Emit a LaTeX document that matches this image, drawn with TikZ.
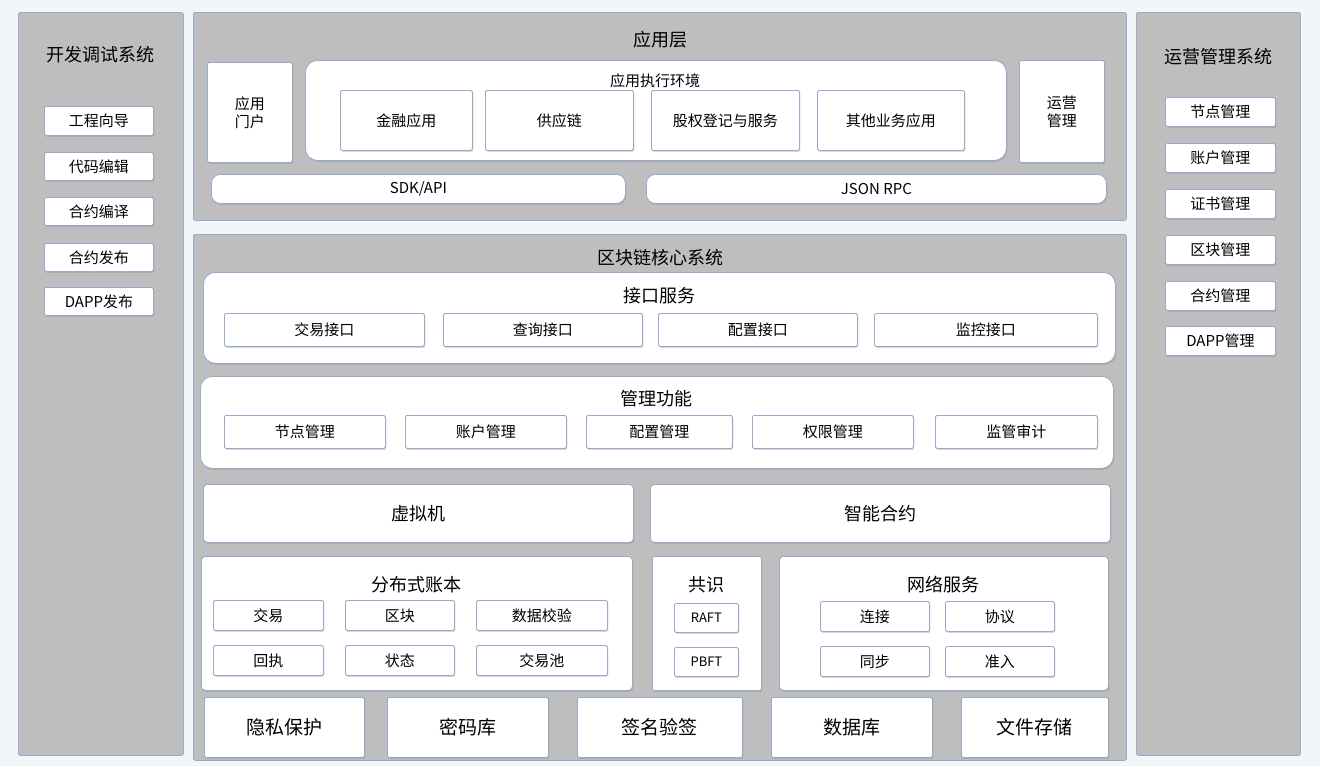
\documentclass[tikz,border=0pt]{standalone}
\usepackage{fontspec}
\setmainfont{Noto Sans CJK SC}
\usetikzlibrary{shadows}
\definecolor{panelgray}{RGB}{190,190,190}
\definecolor{edgeblue}{RGB}{150,170,205}
\definecolor{pagebg}{RGB}{243,246,249}
\tikzset{
  panel/.style={draw=edgeblue, fill=panelgray, line width=0.8pt, rounded corners=2pt},
  itembox/.style={draw=edgeblue, fill=white, line width=0.8pt, rounded corners=1.5pt,
    drop shadow={opacity=0.3, shadow xshift=1pt, shadow yshift=-1.5pt},
    font=\fontsize{15}{18}\selectfont, align=center, inner sep=0pt},
  groupbox/.style={itembox, rounded corners=12pt},
  ttl/.style={font=\fontsize{18}{21}\selectfont, inner sep=0pt},
}
% box from corner (x1,y1) to (x2,y2), pixel units
\newcommand{\pbox}[7][itembox]{%
  \pgfmathsetmacro{\bw}{#5-#3}\pgfmathsetmacro{\bh}{#6-#4}%
  \node[#1, anchor=north west, minimum width=\bw pt, minimum height=\bh pt] (#2) at (#3,#4) {#7};}
\begin{document}
\begin{tikzpicture}[x=1pt,y=-1pt]
\fill[pagebg] (0,0) rectangle (1320,766);
\useasboundingbox (0,0) rectangle (1320,766);

% side panels
\pbox[panel]{dev}{18}{12}{183}{755}{}
\node[ttl] (devT) at (100,55) {开发调试系统};
\pbox{d1}{44}{106}{153}{135}{工程向导}
\pbox{d2}{44}{152}{153}{180}{代码编辑}
\pbox{d3}{44}{197}{153}{225}{合约编译}
\pbox{d4}{44}{243}{153}{271}{合约发布}
\pbox{d5}{44}{287}{153}{315}{DAPP发布}

\pbox[panel]{ops}{1136}{12}{1300}{755}{}
\node[ttl] (opsT) at (1218,57) {运营管理系统};
\pbox{o1}{1165}{97}{1275}{126}{节点管理}
\pbox{o2}{1165}{143}{1275}{172}{账户管理}
\pbox{o3}{1165}{189}{1275}{218}{证书管理}
\pbox{o4}{1165}{235}{1275}{264}{区块管理}
\pbox{o5}{1165}{281}{1275}{310}{合约管理}
\pbox{o6}{1165}{326}{1275}{355}{DAPP管理}

% application layer
\pbox[panel]{app}{193}{12}{1126}{220}{}
\node[ttl] (appT) at (660,40) {应用层};
\pbox{portal}{207}{62}{292}{162}{应用\\门户}
\pbox[groupbox]{env}{305}{60}{1006}{160}{}
\node[font=\fontsize{15}{18}\selectfont] (envT) at (655,81) {应用执行环境};
\pbox{a1}{340}{90}{472}{150}{金融应用}
\pbox{a2}{485}{90}{633}{150}{供应链}
\pbox{a3}{651}{90}{799}{150}{股权登记与服务}
\pbox{a4}{817}{90}{964}{150}{其他业务应用}
\pbox{opm}{1019}{60}{1104}{162}{运营\\管理}
\pbox[itembox, rounded corners=9pt]{sdk}{211}{174}{625}{203}{SDK/API}
\pbox[itembox, rounded corners=9pt]{rpc}{646}{174}{1106}{203}{JSON RPC}

% blockchain core
\pbox[panel]{core}{193}{234}{1126}{760}{}
\node[ttl] (coreT) at (660,258) {区块链核心系统};
\pbox[groupbox]{ifs}{203}{272}{1115}{363}{}
\node[ttl] (ifsT) at (659,296) {接口服务};
\pbox{i1}{224}{313}{424}{346}{交易接口}
\pbox{i2}{443}{313}{642}{346}{查询接口}
\pbox{i3}{658}{313}{857}{346}{配置接口}
\pbox{i4}{874}{313}{1097}{346}{监控接口}

\pbox[groupbox]{mgt}{200}{376}{1113}{468}{}
\node[ttl] (mgtT) at (656,399) {管理功能};
\pbox{m1}{224}{415}{385}{448}{节点管理}
\pbox{m2}{405}{415}{566}{448}{账户管理}
\pbox{m3}{586}{415}{732}{448}{配置管理}
\pbox{m4}{752}{415}{913}{448}{权限管理}
\pbox{m5}{935}{415}{1097}{448}{监管审计}

\pbox[itembox, rounded corners=4pt, font=\fontsize{18}{21}\selectfont]{vm}{203}{484}{633}{542}{虚拟机}
\pbox[itembox, rounded corners=4pt, font=\fontsize{18}{21}\selectfont]{sc}{650}{484}{1110}{542}{智能合约}

\pbox[itembox, rounded corners=4pt]{ledger}{201}{556}{632}{690}{}
\node[ttl] (ledgerT) at (416,585) {分布式账本};
\pbox{l1}{213}{600}{323}{630}{交易}
\pbox{l2}{345}{600}{454}{630}{区块}
\pbox{l3}{476}{600}{607}{630}{数据校验}
\pbox{l4}{213}{645}{323}{675}{回执}
\pbox{l5}{345}{645}{454}{675}{状态}
\pbox{l6}{476}{645}{607}{675}{交易池}

\pbox[itembox, rounded corners=2pt]{cons}{652}{556}{761}{690}{}
\node[ttl] (consT) at (706,585) {共识};
\pbox[itembox, font=\fontsize{13}{16}\selectfont]{c1}{674}{603}{738}{632}{RAFT}
\pbox[itembox, font=\fontsize{13}{16}\selectfont]{c2}{674}{647}{738}{676}{PBFT}

\pbox[itembox, rounded corners=4pt]{net}{779}{556}{1108}{690}{}
\node[ttl] (netT) at (943,585) {网络服务};
\pbox{n1}{820}{601}{929}{631}{连接}
\pbox{n2}{945}{601}{1054}{631}{协议}
\pbox{n3}{820}{646}{929}{676}{同步}
\pbox{n4}{945}{646}{1054}{676}{准入}

\tikzset{basebox/.style={itembox, font=\fontsize{19}{22}\selectfont}}
\pbox[basebox]{b1}{204}{697}{364}{757}{隐私保护}
\pbox[basebox]{b2}{387}{697}{548}{757}{密码库}
\pbox[basebox]{b3}{577}{697}{742}{757}{签名验签}
\pbox[basebox]{b4}{771}{697}{932}{757}{数据库}
\pbox[basebox]{b5}{961}{697}{1108}{757}{文件存储}
\end{tikzpicture}
\end{document}
